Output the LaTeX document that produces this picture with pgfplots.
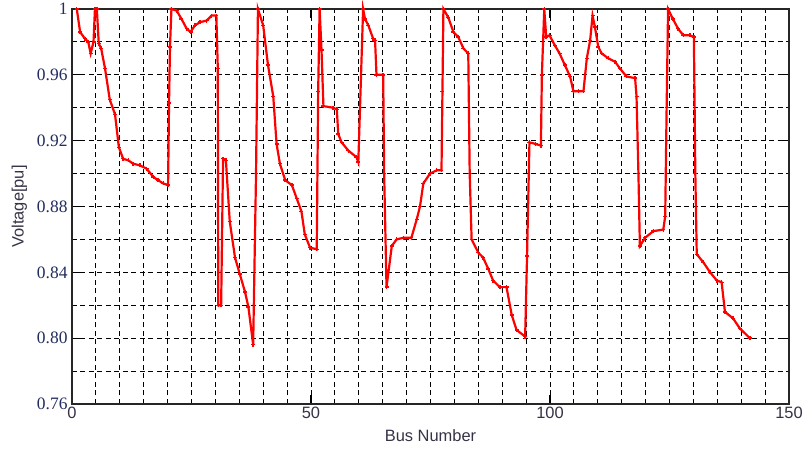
\documentclass[border=0pt]{standalone}
\usepackage{pgfplots}
\pgfplotsset{compat=1.18}
\usepackage{fontspec}
\setmainfont{Liberation Serif}
\setsansfont{Liberation Sans}
\definecolor{ticknavy}{RGB}{35,45,95}
\definecolor{labelgray}{RGB}{55,50,70}
\definecolor{curvered}{RGB}{255,0,0}

\pgfplotstableread{
bus   v
1     1.000
1.7   0.986
2.7   0.982
3.4   0.980
3.9   0.973
4.5   0.980
4.8   1.000
5.2   1.000
5.6   0.979
6.1   0.976
6.9   0.964
7.9   0.945
9.0   0.936
9.8   0.916
10.7  0.909
11.8  0.908
12.8  0.906
14.2  0.905
15.6  0.903
17.0  0.898
18.0  0.896
19.1  0.894
20.1  0.893
20.3  0.943
20.5  0.977
20.8  1.000
21.9  0.999
22.9  0.994
24.0  0.988
24.8  0.986
25.7  0.990
26.8  0.992
28.2  0.993
29.2  0.996
30.2  0.996
30.5  0.964
30.6  0.820
31.2  0.820
31.6  0.909
32.2  0.908
33.0  0.871
34.1  0.849
35.1  0.839
36.2  0.828
36.9  0.819
37.9  0.796
38.5  0.900
38.9  1.000
40.0  0.990
41.0  0.966
42.1  0.947
42.8  0.918
43.5  0.906
44.6  0.896
46.0  0.893
47.0  0.885
48.0  0.877
48.7  0.863
49.8  0.855
51.2  0.854
51.5  0.950
51.8  1.000
52.2  0.975
52.6  0.941
54.6  0.940
55.4  0.939
55.7  0.924
56.4  0.919
57.8  0.914
59.5  0.910
59.9  0.907
60.9  1.000
61.3  0.994
62.0  0.990
63.0  0.982
63.4  0.981
63.7  0.960
65.1  0.960
65.3  0.900
65.8  0.831
66.9  0.856
67.9  0.860
69.3  0.861
71.0  0.861
72.1  0.872
72.8  0.880
73.5  0.894
74.9  0.900
76.3  0.902
77.3  0.902
77.5  0.950
77.7  1.000
78.7  0.995
79.8  0.986
80.8  0.983
81.9  0.976
82.9  0.973
83.2  0.900
83.6  0.860
85.0  0.852
86.0  0.849
87.1  0.842
88.1  0.835
89.5  0.831
90.9  0.831
92.0  0.814
93.0  0.805
94.8  0.801
95.2  0.850
95.7  0.919
97.0  0.918
98.1  0.917
98.3  0.960
98.8  1.000
99.2  0.983
99.9  0.984
101.0 0.978
102.0 0.973
103.1 0.966
104.2 0.959
104.9 0.950
105.9 0.950
107.0 0.950
107.7 0.970
108.4 0.981
108.9 0.996
109.4 0.989
110.1 0.977
110.8 0.973
112.2 0.970
113.6 0.968
114.6 0.964
116.0 0.959
117.8 0.958
118.1 0.947
118.5 0.900
118.8 0.856
119.9 0.861
121.6 0.865
123.7 0.866
124.1 0.874
124.4 0.940
124.7 1.000
125.7 0.994
126.8 0.988
127.9 0.984
129.3 0.984
130.1 0.983
130.4 0.900
130.7 0.851
132.1 0.846
133.5 0.840
134.9 0.835
135.9 0.834
136.6 0.816
138.3 0.812
139.7 0.806
141.8 0.800
}\voltagetable

\begin{document}
\begin{tikzpicture}
\begin{axis}[
  scale only axis,
  width=717bp, height=395bp,
  xmin=0, xmax=150, ymin=0.76, ymax=1,
  xtick={0,50,100,150},
  xticklabels={0,50,100,150},
  minor xtick={5,10,15,20,25,30,35,40,45,55,60,65,70,75,80,85,90,95,105,110,115,120,125,130,135,140,145},
  ytick={0.76,0.80,0.84,0.88,0.92,0.96,1.0},
  yticklabels={0.76,0.80,0.84,0.88,0.92,0.96,1},
  minor ytick={0.78,0.82,0.86,0.90,0.94,0.98},
  grid=both,
  major grid style={black, dash pattern=on 5bp off 3.5bp, line width=1bp},
  minor grid style={black, dash pattern=on 5bp off 3.5bp, line width=1bp},
  tick align=inside,
  major tick length=9bp,
  minor tick length=0bp,
  tick style={black, line width=1.3bp},
  axis line style={black!85, line width=1.6bp},
  yticklabel style={font=\fontsize{17.5}{20}\selectfont, text=ticknavy, xshift=-1bp},
  xticklabel style={font=\sffamily\fontsize{16.5}{20}\selectfont, text=labelgray},
  xlabel={Bus Number},
  ylabel={Voltage[pu]},
  label style={font=\sffamily\fontsize{16.5}{20}\selectfont, text=labelgray},
  xlabel style={yshift=-4bp},
  ylabel style={yshift=3bp},
  clip=false,
]
\addplot[color=curvered, line width=2.2bp, mark=+, mark size=2bp,
  mark options={line width=1.4bp}] table[x=bus, y=v] {\voltagetable};
\end{axis}
\pgfresetboundingbox
\useasboundingbox (-72bp,-47bp) rectangle (733bp,404bp);
\end{tikzpicture}
\end{document}
